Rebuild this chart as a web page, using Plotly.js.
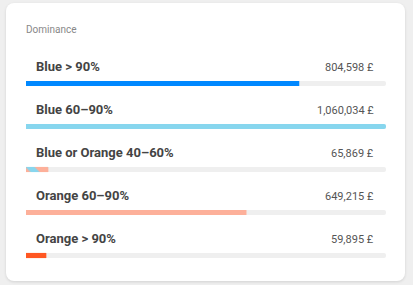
<!DOCTYPE html>
<html>
<head>
<meta charset="utf-8">
<script src="https://cdn.plot.ly/plotly-3.0.1.min.js"></script>
<style>
  html, body { margin: 0; padding: 0; background: #efefef; }
  #card {
    position: absolute; left: 6px; top: 3px; width: 399px; height: 278px;
    background: #fff; border-radius: 8px;
    box-shadow: 0 1px 3px rgba(0,0,0,0.12);
  }
  #chart { width: 399px; height: 278px; }
</style>
</head>
<body>
<div id="card"><div id="chart"></div></div>
<script>
// Dominance buckets and their amounts (GBP)
const categories = ["Blue > 90%", "Blue 60\u201390%", "Blue or Orange 40\u201360%", "Orange 60\u201390%", "Orange > 90%"];
const amounts = [804598, 1060034, 65869, 649215, 59895];
const amountLabels = ["804,598 \u00a3", "1,060,034 \u00a3", "65,869 \u00a3", "649,215 \u00a3", "59,895 \u00a3"];
const barColors = ["#0088ff", "#87d6ee", "#fdb09a", "#fdb09a", "#ff5722"];

const rows = categories.map((_, i) => i);
const maxAmount = Math.max(...amounts);
const mixedRow = 2;

// grey tracks spanning the full scale
const track = {
  type: "bar", orientation: "h",
  x: rows.map(() => maxAmount), y: rows,
  width: 0.12,
  marker: { color: "#efefef" },
  hoverinfo: "skip"
};

// filled part of each track
const fill = {
  type: "bar", orientation: "h",
  x: amounts, y: rows,
  width: 0.12,
  marker: { color: barColors },
  hoverinfo: "skip"
};

const labelAnn = categories.map((c, i) => ({
  x: 0, y: i, xref: "x", yref: "y",
  text: c, showarrow: false,
  xanchor: "left", yanchor: "middle",
  xshift: 8, yshift: 17,
  font: { family: "Roboto", size: 13, color: "#444", weight: "bold" }
}));

const valueAnn = amountLabels.map((t, i) => ({
  x: maxAmount, y: i, xref: "x", yref: "y",
  text: t, showarrow: false,
  xanchor: "right", yanchor: "middle",
  xshift: -10, yshift: 16,
  font: { family: "Roboto", size: 11, color: "#555" }
}));

const layout = {
  width: 399, height: 278,
  margin: { l: 20, r: 19, t: 59, b: 4 },
  paper_bgcolor: "rgba(0,0,0,0)",
  plot_bgcolor: "rgba(0,0,0,0)",
  barmode: "overlay",
  barcornerradius: 3,
  showlegend: false,
  title: {
    text: "Dominance",
    x: 0, xref: "paper", xanchor: "left",
    y: 1, yref: "container", yanchor: "top",
    pad: { t: 23, l: 0 },
    font: { family: "Roboto", size: 10, color: "#888" }
  },
  xaxis: { range: [0, maxAmount], visible: false, fixedrange: true },
  yaxis: { range: [4.5, -0.5], visible: false, fixedrange: true },
  annotations: labelAnn.concat(valueAnn)
};

// diagonal blue/orange stripes for the mixed bucket
function stripeMixedBar(gd) {
  const NS = "http://www.w3.org/2000/svg";
  const svg = gd.querySelector("svg.main-svg");
  let defs = svg.querySelector("defs");
  if (!defs) { defs = document.createElementNS(NS, "defs"); svg.prepend(defs); }
  const traces = gd.querySelectorAll(".barlayer .trace");
  const bar = traces[1].querySelectorAll(".point path")[mixedRow];
  const box = bar.getBBox();
  const pat = document.createElementNS(NS, "pattern");
  pat.setAttribute("id", "mixStripes");
  pat.setAttribute("patternUnits", "userSpaceOnUse");
  pat.setAttribute("width", "16");
  pat.setAttribute("height", "16");
  pat.setAttribute("patternTransform",
    "translate(" + box.x + "," + (box.y + box.height / 2) + ") rotate(-45)");
  const bg = document.createElementNS(NS, "rect");
  bg.setAttribute("width", "16"); bg.setAttribute("height", "16");
  bg.setAttribute("fill", barColors[3]);
  const fg = document.createElementNS(NS, "rect");
  fg.setAttribute("x", "1.4"); fg.setAttribute("width", "6.4"); fg.setAttribute("height", "16");
  fg.setAttribute("fill", barColors[1]);
  pat.appendChild(bg); pat.appendChild(fg);
  defs.appendChild(pat);
  bar.style.fill = "url(#mixStripes)";
}

Plotly.newPlot("chart", [track, fill], layout, { displayModeBar: false, staticPlot: true })
  .then(stripeMixedBar);
</script>
</body>
</html>
